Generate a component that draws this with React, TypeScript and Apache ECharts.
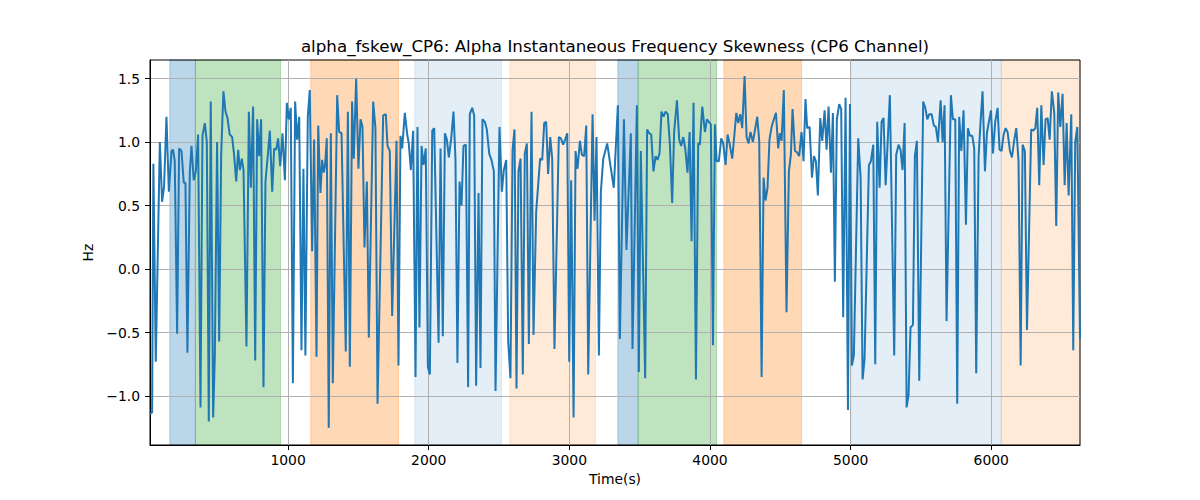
import { useEffect, useRef } from 'react';
import * as echarts from 'echarts';

const TITLE = 'alpha_fskew_CP6: Alpha Instantaneous Frequency Skewness (CP6 Channel)';
const X_NAME = 'Time(s)';
const Y_NAME = 'Hz';
const X_TICKS = [1000, 2000, 3000, 4000, 5000, 6000];
const Y_TICKS = [-1.0, -0.5, 0.0, 0.5, 1.0, 1.5];
const X_MIN = 18;
const X_MAX = 6631;
const Y_MIN = -1.386;
const Y_MAX = 1.647;

// time (s) of each sample
const TIMES = [
  18, 33, 42, 59, 88, 104, 118, 135, 152, 171, 182, 194, 211, 225, 242, 258, 270, 284, 301, 313,
  329, 344, 360, 377, 391, 408, 422, 436, 450, 467, 479, 495, 510, 524, 540, 555, 569, 585, 602, 616,
  631, 645, 657, 671, 683, 704, 721, 735, 751, 766, 780, 794, 808, 825, 839, 856, 870, 887, 901, 915,
  929, 944, 960, 977, 991, 1005, 1019, 1034, 1050, 1064, 1079, 1095, 1109, 1123, 1140, 1154, 1171, 1185, 1202, 1214,
  1230, 1242, 1254, 1263, 1275, 1289, 1304, 1318, 1349, 1363, 1380, 1410, 1425, 1439, 1455, 1467, 1484, 1500, 1515, 1529,
  1543, 1560, 1574, 1605, 1621, 1636, 1676, 1695, 1707, 1723, 1740, 1771, 1785, 1799, 1811, 1830, 1847, 1858, 1873, 1889,
  1906, 1920, 1934, 1949, 1963, 1979, 1994, 2008, 2025, 2039, 2070, 2084, 2100, 2115, 2129, 2143, 2160, 2176, 2190, 2204,
  2219, 2233, 2247, 2264, 2280, 2292, 2309, 2323, 2337, 2354, 2368, 2382, 2399, 2413, 2430, 2446, 2463, 2475, 2503, 2520,
  2534, 2551, 2565, 2581, 2596, 2610, 2624, 2638, 2653, 2669, 2683, 2698, 2712, 2731, 2745, 2764, 2792, 2807, 2821, 2835,
  2849, 2864, 2878, 2894, 2925, 2940, 2956, 2970, 2985, 2999, 3013, 3030, 3044, 3058, 3075, 3089, 3105, 3120, 3134, 3165,
  3179, 3193, 3210, 3224, 3241, 3269, 3290, 3316, 3345, 3359, 3388, 3406, 3437, 3449, 3480, 3494, 3508, 3539, 3553, 3567,
  3582, 3598, 3613, 3627, 3641, 3655, 3670, 3684, 3700, 3715, 3731, 3745, 3765, 3781, 3795, 3810, 3824, 3840, 3855, 3869,
  3883, 3900, 3916, 3928, 3945, 3964, 3978, 3992, 4006, 4021, 4035, 4047, 4063, 4080, 4094, 4111, 4125, 4139, 4158, 4172,
  4187, 4201, 4215, 4229, 4246, 4260, 4274, 4288, 4305, 4336, 4350, 4367, 4381, 4395, 4409, 4423, 4438, 4454, 4469, 4485,
  4497, 4509, 4525, 4544, 4561, 4575, 4587, 4604, 4618, 4634, 4651, 4665, 4679, 4691, 4708, 4725, 4739, 4753, 4767, 4784,
  4798, 4815, 4829, 4843, 4860, 4874, 4888, 4902, 4919, 4933, 4947, 4964, 4981, 4995, 5009, 5023, 5054, 5071, 5085, 5099,
  5130, 5144, 5161, 5175, 5189, 5206, 5220, 5234, 5249, 5279, 5310, 5324, 5341, 5355, 5369, 5384, 5398, 5412, 5426, 5443,
  5457, 5471, 5488, 5516, 5531, 5545, 5559, 5576, 5592, 5606, 5621, 5640, 5654, 5668, 5682, 5713, 5727, 5744, 5758, 5772,
  5787, 5803, 5820, 5834, 5848, 5865, 5879, 5893, 5910, 5924, 5938, 5955, 5969, 5983, 5998, 6012, 6028, 6045, 6059, 6073,
  6088, 6102, 6116, 6133, 6147, 6164, 6178, 6194, 6209, 6223, 6239, 6254, 6284, 6299, 6313, 6327, 6341, 6356, 6372, 6386,
  6401, 6415, 6431, 6448, 6462, 6476, 6491, 6507, 6522, 6536, 6550, 6569, 6583, 6597, 6612, 6631,
];

// skewness (Hz) at each time above
const VALUES = [
  -1.14, -1.13, 0.83, -0.73, 1.0, 0.53, 0.65, 1.2, 0.61, 0.93, 0.94, 0.85, -0.51, 0.95, 0.93, 0.68, 0.68, -0.66, 0.76, 0.97,
  0.7, 0.77, 1.06, -1.09, 1.05, 1.15, 1.0, -1.2, 1.32, -1.17, -0.68, 1.0, -0.57, 0.9, 1.4, 1.24, 1.19, 1.06, 1.04, 0.9,
  0.69, 0.94, 0.78, 0.87, 0.78, -0.61, 1.24, 0.64, 1.28, -0.72, 1.18, 0.89, 1.18, -0.93, 0.69, 0.9, 1.09, 0.61, 0.95, 0.94,
  1.03, 0.81, 1.07, 0.7, 1.31, 1.18, 1.27, -0.9, 1.32, 1.02, 1.2, -0.64, 0.79, -0.68, 1.2, 1.41, 0.14, 1.02, -0.69, 1.13,
  0.6, 0.86, 0.76, 0.82, 1.03, -1.25, 1.07, -0.9, 1.37, 1.08, 1.07, -0.65, 1.24, -0.77, 1.32, 0.87, 1.5, 0.79, 1.18, 1.12,
  0.17, 0.69, -0.54, 1.32, 1.11, -1.06, 1.21, 1.22, 0.97, 0.93, -0.37, 1.01, -0.76, 1.05, 0.95, 1.23, 1.06, 0.99, 0.78, 1.09,
  -0.85, 1.12, -0.46, 0.97, 0.82, 0.95, -0.77, -0.83, 1.09, 1.11, -0.58, 0.95, -0.53, 1.07, 1.02, 0.88, 1.03, 1.24, 0.87, -0.74,
  0.69, 0.5, 0.97, 0.98, -0.93, 1.22, 1.27, 1.21, -0.92, 0.6, -0.78, 1.18, 1.16, 1.1, 0.91, 0.86, 0.77, -0.96, 1.12, 0.61,
  0.78, 0.86, -0.57, -0.86, 0.94, 1.1, -0.94, 0.77, 0.87, -0.83, 0.91, 0.99, -0.59, 1.24, -0.52, 0.45, 0.87, 0.86, 1.15, 1.16,
  0.75, 1.04, 0.87, -0.63, 1.04, 1.03, 0.98, 1.02, 1.07, -0.73, 0.7, -1.17, 0.93, 0.79, 1.01, 0.9, 0.89, 1.13, -0.83, 1.22,
  0.38, 1.04, -0.68, 0.61, 0.87, 0.99, 0.83, 0.64, 1.29, -0.55, 1.18, 0.15, 1.07, -0.63, 1.29, -0.81, 0.93, -0.86, 1.1, 1.07,
  1.06, 0.77, 0.89, 0.86, 0.91, 1.24, 1.2, 1.24, 1.22, 0.98, 0.52, 1.08, 1.33, 1.02, 0.97, 1.04, 0.95, 0.76, 1.08, 0.22,
  1.31, -0.87, 0.99, 0.98, 1.28, 1.08, 1.18, 1.16, 1.14, -0.6, 1.14, 0.85, 0.85, 1.03, 0.99, 0.82, 1.06, 0.99, 0.87, 1.04,
  1.23, 1.15, 1.22, 1.11, 1.52, 1.04, 0.99, 1.08, 1.0, 1.2, 1.01, -0.85, 0.72, 0.54, 0.64, 1.02, 1.12, 1.18, 1.23, 0.95,
  1.07, 1.01, 1.41, -0.34, 0.77, 0.9, 1.26, 0.93, 0.92, 0.89, 1.08, 0.85, 1.34, 1.11, 1.12, 0.72, 0.89, 0.85, 0.58, 1.19,
  1.01, 1.25, 0.94, 1.28, 0.76, 1.23, -0.1, 1.18, 1.3, 1.26, -0.38, 1.35, -1.11, 1.3, -0.76, -0.68, 1.03, 0.72, -0.87, -0.71,
  0.82, 0.85, 0.98, -0.75, 1.16, 0.64, 1.16, 1.19, 0.66, 1.37, -0.68, 0.9, 0.98, 0.94, 0.78, 1.15, -1.09, -0.99, -0.46, -0.44,
  0.89, 1.01, -0.88, 1.32, 1.27, 1.18, 1.22, 1.22, 1.13, 1.12, 1.0, 1.33, 1.0, 1.29, -0.41, 1.37, 1.18, 1.18, -1.06, 1.2,
  0.93, 1.25, 0.35, 1.11, 1.05, 1.05, 0.95, -0.82, 0.89, 1.16, 1.4, 0.77, 1.07, 1.16, 1.25, 0.91, 1.16, 1.27, 0.94, 0.93,
  1.06, 1.11, 1.08, 0.93, 0.88, 1.02, 1.11, 0.85, -0.76, 0.98, 0.93, -0.48, 1.1, 1.09, 1.11, 1.27, 0.66, 1.29, 0.82, 1.18,
  1.19, 1.02, 1.4, 1.23, 0.34, 1.39, 1.12, 1.38, 0.66, 1.15, 0.58, 1.22, -0.64, 1.0, 1.12, -0.55,
];

// shaded intervals
const SPAN_STARTS = [159, 341, 1161, 1901, 2577, 3345, 3489, 4099, 5007, 6071];
const SPAN_ENDS = [341, 946, 1785, 2518, 3186, 3489, 4047, 4651, 6071, 6631];
const SPAN_KINDS = ['blue', 'green', 'orange', 'paleBlue', 'paleOrange', 'blue', 'green', 'orange', 'paleBlue', 'paleOrange'];

const SPAN_FILL: Record<string, string> = {
  blue: 'rgba(31,119,180,0.3)',
  green: 'rgba(44,160,44,0.3)',
  orange: 'rgba(255,127,14,0.3)',
  paleBlue: 'rgba(31,119,180,0.12)',
  paleOrange: 'rgba(255,127,14,0.16)',
};

const FONT = 'DejaVu Sans';
const fmtTick = (v: number) => v.toFixed(1).replace('-', '\u2212');

export default function App() {
  const ref = useRef<HTMLDivElement>(null);

  useEffect(() => {
    if (!ref.current) return;
    const chart = echarts.init(ref.current, null, { renderer: 'svg' });

    chart.setOption({
      animation: false,
      backgroundColor: '#fff',
      textStyle: { fontFamily: FONT },
      graphic: [
        {
          type: 'text',
          x: 615,
          y: 46,
          style: {
            text: TITLE,
            fontFamily: FONT,
            fontSize: 16.7,
            fill: '#000',
            textAlign: 'center',
            textVerticalAlign: 'middle',
          },
        },
      ],
      grid: {
        left: 150,
        right: 120,
        top: 60,
        bottom: 55,
        show: true,
        borderColor: '#000',
        borderWidth: 1,
        backgroundColor: 'transparent',
      },
      xAxis: {
        type: 'value',
        min: X_MIN,
        max: X_MAX,
        name: X_NAME,
        nameLocation: 'middle',
        nameGap: 27,
        nameTextStyle: { fontFamily: FONT, fontSize: 13.9, color: '#000' },
        axisLine: { show: true, onZero: false, lineStyle: { color: '#000', width: 1 } },
        axisTick: { show: true, customValues: X_TICKS, length: 5, lineStyle: { color: '#000', width: 1 } },
        axisLabel: {
          customValues: X_TICKS,
          margin: 8,
          fontFamily: FONT,
          fontSize: 13.9,
          color: '#000',
          formatter: (v: number) => String(v),
        },
        splitLine: { show: true, lineStyle: { color: '#b0b0b0', width: 1 } },
      },
      yAxis: {
        type: 'value',
        min: Y_MIN,
        max: Y_MAX,
        name: Y_NAME,
        nameLocation: 'middle',
        nameGap: 50,
        nameTextStyle: { fontFamily: FONT, fontSize: 13.9, color: '#000' },
        axisLine: { show: true, onZero: false, lineStyle: { color: '#000', width: 1 } },
        axisTick: { show: true, customValues: Y_TICKS, length: 5, lineStyle: { color: '#000', width: 1 } },
        axisLabel: {
          customValues: Y_TICKS,
          margin: 10,
          fontFamily: FONT,
          fontSize: 13.9,
          color: '#000',
          formatter: fmtTick,
        },
        splitLine: { show: true, lineStyle: { color: '#b0b0b0', width: 1 } },
      },
      series: [
        {
          type: 'custom',
          z: -1,
          silent: true,
          encode: { x: [0, 1], y: 2 },
          data: SPAN_STARTS.map((s, i) => [s, SPAN_ENDS[i], 0]),
          renderItem: (params: any, api: any) => {
            const a = api.coord([api.value(0), 0]);
            const b = api.coord([api.value(1), 0]);
            const cs = params.coordSys;
            const fill = SPAN_FILL[SPAN_KINDS[params.dataIndex]];
            return {
              type: 'rect',
              shape: { x: a[0], y: cs.y, width: b[0] - a[0], height: cs.height },
              style: { fill, stroke: fill, lineWidth: 1 },
            };
          },
        },
        {
          type: 'line',
          z: 3,
          showSymbol: false,
          symbol: 'none',
          clip: true,
          data: TIMES.map((t, i) => [t, VALUES[i]]),
          lineStyle: { color: '#1f77b4', width: 2 },
        },
      ],
    });

    return () => chart.dispose();
  }, []);

  return (
    <div
      ref={ref}
      style={{ position: 'absolute', left: 0, top: 0, width: 1200, height: 500 }}
    />
  );
}
